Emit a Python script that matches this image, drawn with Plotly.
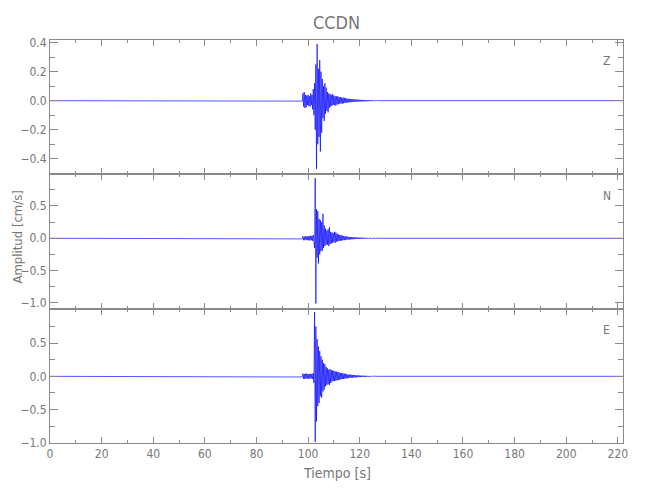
import plotly.graph_objects as go
from plotly.subplots import make_subplots

# ---------------- data ----------------
STATION = "CCDN"
COMPONENTS = ["Z", "N", "E"]
X_TITLE = "Tiempo [s]"
Y_TITLE = "Amplitud [cm/s]"

RECORD_START_S = 0.0
RECORD_END_S = 222.0
EVENT_START_S = 97.5        # first sample of the digitised event window
SAMPLE_INTERVAL_S = 0.25    # spacing of the digitised samples

X_TICKS = [0, 20, 40, 60, 80, 100, 120, 140, 160, 180, 200, 220]
Y_TICKS_Z = [-0.4, -0.2, 0.0, 0.2, 0.4]
Y_TICKS_NE = [-1.0, -0.5, 0.0, 0.5]

AMP_Z = [
    0.0, -0.003, 0.05, -0.04, 0.06, -0.05, 0.04, -0.045, 0.035, -0.03,
    0.04, -0.035, 0.03, -0.04, 0.05, -0.03, 0.04, -0.06, 0.08, -0.1,
    0.12, -0.2, 0.25, -0.47, 0.39, -0.3, 0.22, -0.25, 0.28, -0.35,
    0.2, -0.22, 0.15, -0.12, 0.1, -0.14, 0.12, -0.09, 0.09, -0.07,
    0.06, -0.08, 0.05, -0.05, 0.045, -0.04, 0.04, -0.035, 0.045, -0.03,
    0.035, -0.03, 0.03, -0.035, 0.03, -0.025, 0.03, -0.025, 0.025, -0.02,
    0.025, -0.02, 0.02, -0.02, 0.022, -0.018, 0.02, -0.015, 0.018, -0.015,
    0.015, -0.012, 0.014, -0.012, 0.012, -0.01, 0.012, -0.01, 0.01, -0.008,
    0.01, -0.008, 0.009, -0.007, 0.008, -0.007, 0.008, -0.006, 0.007, -0.006,
    0.006, -0.005, 0.006, -0.005, 0.005, -0.005, 0.005, -0.004, 0.005, -0.004,
    0.004, -0.004, 0.004, -0.003, 0.004, -0.003, 0.003, -0.003, 0.003, -0.003,
    0.003, -0.002, 0.003, -0.002, 0.002, -0.002, 0.002, -0.002, 0.002, 0.0,
]

AMP_N = [
    0.0, -0.01, 0.03, -0.03, 0.025, -0.03, 0.03, -0.025, 0.03, -0.03,
    0.035, -0.03, 0.03, -0.035, 0.04, -0.03, 0.035, -0.04, 0.05, -0.06,
    -0.15, 0.93, -1.01, 0.45, -0.3, 0.42, -0.39, 0.3, -0.25, 0.28,
    -0.2, 0.25, -0.19, 0.38, -0.15, 0.2, -0.12, 0.15, -0.1, 0.12,
    -0.1, 0.14, -0.12, 0.17, -0.09, 0.1, -0.08, 0.09, -0.07, 0.08,
    -0.06, 0.1, -0.07, 0.09, -0.05, 0.07, -0.05, 0.06, -0.04, 0.05,
    -0.04, 0.05, -0.035, 0.04, -0.03, 0.035, -0.03, 0.03, -0.025, 0.03,
    -0.02, 0.025, -0.02, 0.02, -0.02, 0.02, -0.018, 0.018, -0.015, 0.016,
    -0.015, 0.015, -0.012, 0.014, -0.012, 0.012, -0.01, 0.012, -0.01, 0.01,
    -0.01, 0.01, -0.009, 0.009, -0.008, 0.009, -0.008, 0.008, -0.007, 0.007,
    -0.006, 0.006, -0.006, 0.005, -0.005, 0.005, -0.005, 0.004, -0.004, 0.004,
    -0.004, 0.004, -0.003, 0.003, -0.003, 0.003, -0.003, 0.002, -0.002, 0.0,
]

AMP_E = [
    0.0, -0.01, 0.04, -0.04, 0.035, -0.04, 0.04, -0.035, 0.04, -0.03,
    0.035, -0.04, 0.03, -0.035, 0.04, -0.03, 0.035, -0.04, 0.05, -0.1,
    0.97, -0.99, 0.75, -0.68, 0.56, -0.45, 0.45, -0.4, 0.38, -0.3,
    0.3, -0.32, 0.25, -0.23, 0.2, -0.2, 0.18, -0.15, 0.14, -0.13,
    0.12, -0.12, 0.1, -0.13, 0.11, -0.1, 0.09, -0.08, 0.09, -0.07,
    0.08, -0.07, 0.075, -0.065, 0.07, -0.06, 0.065, -0.055, 0.06, -0.05,
    0.05, -0.045, 0.05, -0.04, 0.045, -0.04, 0.04, -0.035, 0.04, -0.03,
    0.03, -0.03, 0.028, -0.025, 0.025, -0.022, 0.024, -0.02, 0.022, -0.02,
    0.02, -0.018, 0.018, -0.016, 0.016, -0.015, 0.015, -0.013, 0.014, -0.012,
    0.012, -0.011, 0.011, -0.01, 0.01, -0.009, 0.01, -0.008, 0.009, -0.008,
    0.007, -0.007, 0.007, -0.006, 0.006, -0.006, 0.005, -0.005, 0.005, -0.004,
    0.004, -0.004, 0.004, -0.003, 0.003, -0.003, 0.003, -0.002, 0.002, 0.0,
]

AMPS = {"Z": AMP_Z, "N": AMP_N, "E": AMP_E}

# ---------------- styling ----------------
FONT = "Liberation Sans Narrow, DejaVu Sans Condensed, Roboto, DejaVu Sans"
GRAY = "#8a8a8a"
TEXT_GRAY = "#777777"
TRACE_COLOR = "rgba(0,0,255,0.85)"

Y_RANGES = {"Z": [-0.507, 0.418], "N": [-1.09, 0.99], "E": [-1.005, 1.02]}
Y_TICKVALS = {"Z": Y_TICKS_Z, "N": Y_TICKS_NE, "E": Y_TICKS_NE}
Y_MINOR = {"Z": 0.1, "N": 0.25, "E": 0.25}

fig = make_subplots(rows=3, cols=1, shared_xaxes=True, vertical_spacing=0)

for r, comp in enumerate(COMPONENTS, start=1):
    amps = AMPS[comp]
    t = [EVENT_START_S + SAMPLE_INTERVAL_S * i for i in range(len(amps))]
    x = [RECORD_START_S] + t + [RECORD_END_S]
    y = [0.0] + amps + [0.0]
    fig.add_trace(
        go.Scatter(x=x, y=y, mode="lines",
                   line=dict(color=TRACE_COLOR, width=0.8),
                   showlegend=False, hoverinfo="skip"),
        row=r, col=1,
    )
    fig.update_yaxes(
        range=Y_RANGES[comp], tickvals=Y_TICKVALS[comp], tickformat=".1f",
        ticks="inside", ticklen=8, tickwidth=1, tickcolor=GRAY,
        minor=dict(ticks="inside", ticklen=5, dtick=Y_MINOR[comp],
                   tick0=0, tickcolor=GRAY, showgrid=False),
        showline=True, linecolor=GRAY, linewidth=1, mirror="ticks",
        showgrid=False, zeroline=False,
        tickfont=dict(family=FONT, size=12, color=TEXT_GRAY),
        row=r, col=1,
    )
    fig.update_xaxes(
        range=[RECORD_START_S, RECORD_END_S], tickvals=X_TICKS,
        ticks="inside", ticklen=6, tickwidth=1, tickcolor=GRAY,
        minor=dict(ticks="inside", ticklen=3, dtick=10, tick0=0,
                   tickcolor=GRAY, showgrid=False),
        showline=True, linecolor=GRAY, linewidth=1, mirror="ticks",
        showgrid=False, zeroline=False,
        tickfont=dict(family=FONT, size=12, color=TEXT_GRAY),
        row=r, col=1,
    )
    fig.add_annotation(
        text=comp, xref=f"x{'' if r == 1 else r} domain",
        yref=f"y{'' if r == 1 else r} domain",
        x=0.972, y=0.84, showarrow=False,
        font=dict(family=FONT, size=12, color=TEXT_GRAY),
        xanchor="center", yanchor="middle",
    )

fig.update_xaxes(showticklabels=True, row=3, col=1)

fig.add_annotation(
    text=X_TITLE, xref="paper", yref="paper", x=0.5, y=-0.074,
    showarrow=False, xanchor="center", yanchor="middle",
    font=dict(family=FONT, size=14, color=TEXT_GRAY),
)
fig.add_annotation(
    text=Y_TITLE, xref="paper", yref="paper", x=-0.0574, y=0.51,
    showarrow=False, xanchor="center", yanchor="middle", textangle=-90,
    font=dict(family=FONT, size=13, color=TEXT_GRAY),
)

# the page adds an 8 px body margin, so the figure is offset by 8 px
fig.update_layout(
    width=650, height=500,
    margin=dict(l=40, r=35, t=32, b=65),
    paper_bgcolor="white", plot_bgcolor="white",
    title=dict(text=STATION, x=0.5, xref="paper", y=1 - 15 / 500,
               yref="container", xanchor="center", yanchor="middle",
               font=dict(family=FONT, size=18, color=TEXT_GRAY)),
    showlegend=False,
)

fig.write_html("out.html")
